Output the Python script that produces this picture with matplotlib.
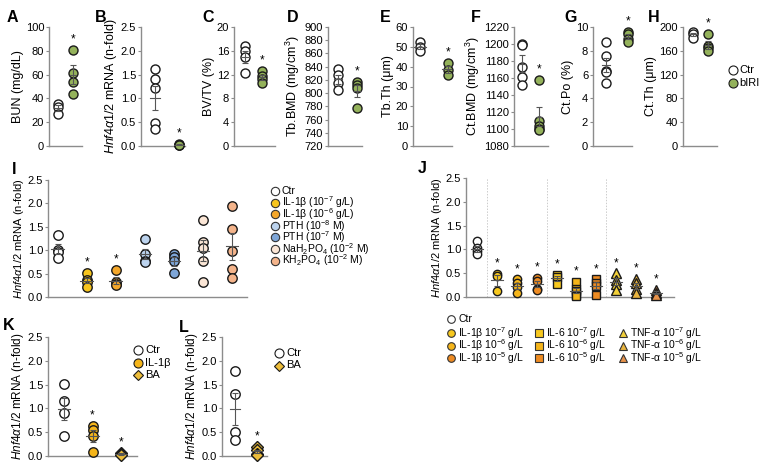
import numpy as np
import matplotlib
matplotlib.use('Agg')
import matplotlib.pyplot as plt
from matplotlib.lines import Line2D

plt.rcParams['font.family'] = ['Liberation Sans', 'DejaVu Sans']
plt.rcParams['mathtext.fontset'] = 'custom'
plt.rcParams['mathtext.rm'] = 'Liberation Sans'
plt.rcParams['mathtext.it'] = 'Liberation Sans:italic'
plt.rcParams['mathtext.bf'] = 'Liberation Sans:bold'

# ---- dados ----
# painéis A-H: Ctr vs bIRI
bun_ctr = [35, 33, 27]
bun_biri = [81, 61, 54, 44]
hnf_ctr = [1.62, 1.41, 1.21, 0.48, 0.36]
hnf_biri = [0.04, 0.03, 0.02, 0.02]
bvtv_ctr = [16.8, 16.0, 14.9, 12.3]
bvtv_biri = [12.6, 11.8, 11.2, 10.6]
tbbmd_ctr = [837, 827, 815, 805]
tbbmd_biri = [817, 812, 808, 777]
tbth_ctr = [52.4, 50.0, 48.0]
tbth_biri = [42.0, 38.5, 35.7]
ctbmd_ctr = [1200, 1199, 1173, 1161, 1152]
ctbmd_biri = [1158, 1110, 1104, 1100, 1099]
ctpo_ctr = [8.7, 7.6, 6.3, 6.2, 5.3]
ctpo_biri = [9.6, 9.4, 9.0, 8.75]
ctth_ctr = [192, 189, 182]
ctth_biri = [189, 168, 164, 159]

# painel I
i_labels = ['Ctr', 'IL-1β (10$^{-7}$ g/L)', 'IL-1β (10$^{-6}$ g/L)', 'PTH (10$^{-8}$ M)',
            'PTH (10$^{-7}$ M)', 'NaH$_2$PO$_4$ (10$^{-2}$ M)', 'KH$_2$PO$_4$ (10$^{-2}$ M)']
i_values = [[1.33, 1.01, 0.97, 0.83],
            [0.52, 0.36, 0.31, 0.22],
            [0.58, 0.31, 0.27, 0.25],
            [1.24, 0.92, 0.77, 0.75],
            [0.92, 0.85, 0.77, 0.51],
            [1.65, 1.17, 1.04, 0.77, 0.33],
            [1.95, 1.46, 0.99, 0.60, 0.40]]
i_star = [False, True, True, False, False, False, False]

# painel J
j_labels = ['Ctr',
            'IL-1β 10$^{-7}$ g/L', 'IL-1β 10$^{-6}$ g/L', 'IL-1β 10$^{-5}$ g/L',
            'IL-6 10$^{-7}$ g/L', 'IL-6 10$^{-6}$ g/L', 'IL-6 10$^{-5}$ g/L',
            'TNF-α 10$^{-7}$ g/L', 'TNF-α 10$^{-6}$ g/L', 'TNF-α 10$^{-5}$ g/L']
j_values = [[1.18, 1.02, 0.96, 0.90],
            [0.49, 0.44, 0.13],
            [0.37, 0.30, 0.20, 0.08],
            [0.40, 0.34, 0.17, 0.15],
            [0.47, 0.43, 0.27],
            [0.32, 0.17, 0.12, 0.05, 0.02],
            [0.37, 0.30, 0.24, 0.05],
            [0.50, 0.36, 0.28, 0.14],
            [0.38, 0.29, 0.17, 0.09],
            [0.15, 0.08, 0.04]]

# painel K
k_labels = ['Ctr', 'IL-1β', 'BA']
k_values = [[1.51, 1.16, 0.90, 0.41],
            [0.64, 0.55, 0.41, 0.08],
            [0.07, 0.04, 0.02]]

# painel L
l_labels = ['Ctr', 'BA']
l_values = [[1.79, 1.31, 0.50, 0.34],
            [0.19, 0.12, 0.05, 0.02]]

# ---- estilo ----
VERDE = '#94b25b'
i_cores = ['white', '#f7c51e', '#f4a72a', '#bcd3ee', '#7ea6d8', '#fbe6d6', '#f4b48b']
j_cores = ['white', '#f7c81e', '#f5b51a', '#ee8b22', '#f7c81e', '#f5b51a', '#ee8b22',
           '#f2d03a', '#e9b43e', '#e7924a']
j_markers = ['o', 'o', 'o', 'o', 's', 's', 's', '^', '^', '^']
k_cores = ['white', '#f5b51a', '#edbd3a']
k_markers = ['o', 'o', 'D']

W, H = 764, 470
fig = plt.figure(figsize=(W / 100, H / 100), dpi=100)
HNF = r'$\mathit{Hnf4\alpha1/2}$ mRNA (n-fold)'


def eixo(x0, x1, ytop, ybot):
    ax = fig.add_axes([x0 / W, 1 - ybot / H, (x1 - x0) / W, (ybot - ytop) / H])
    for s in ['top', 'right']:
        ax.spines[s].set_visible(False)
    for s in ['left', 'bottom']:
        ax.spines[s].set_color('#8c8c8c')
        ax.spines[s].set_linewidth(1.0)
    ax.set_xticks([])
    ax.tick_params(axis='y', length=2, width=0.8, color='#8c8c8c', labelsize=8, pad=1.5)
    ax.patch.set_alpha(0)
    return ax


def eixo_y(ax, lim, ticks, fmt, label, fs=8):
    ax.set_ylim(*lim)
    ax.set_yticks(ticks)
    ax.set_yticklabels([fmt.format(v) for v in ticks])
    ax.set_ylabel(label, fontsize=fs, labelpad=1.5)


def grupo(ax, x, vals, cor, marker='o', ms=6.5, star=False, hw=0.22):
    vals = np.asarray(vals, float)
    ax.plot(np.full(len(vals), x), vals, ls='none', marker=marker, ms=ms,
            mfc=cor, mec='#1a1a1a', mew=1.0, zorder=3, clip_on=False)
    m = vals.mean()
    s = vals.std(ddof=1) / np.sqrt(len(vals))
    ax.errorbar(x, m, yerr=s, fmt='none', ecolor='#555555', elinewidth=0.8,
                capsize=2.2, capthick=0.8, zorder=4)
    ax.plot([x - hw, x + hw], [m, m], color='#555555', lw=0.8, zorder=4)
    if star:
        lo, hi = ax.get_ylim()
        ax.text(x, vals.max() + 0.035 * (hi - lo), '*', ha='center', va='bottom',
                fontsize=8.5)


def letra(x, y, t):
    fig.text(x / W, 1 - y / H, t, fontsize=11.5, fontweight='bold', ha='center', va='center')


def leg_item(x, y, mk, cor, txt, ms=6, fs=7.5, gap=7, mec='#333333'):
    fig.lines.append(Line2D([x / W], [1 - y / H], transform=fig.transFigure, ls='none',
                            marker=mk, ms=ms, mfc=cor, mec=mec, mew=0.8))
    fig.text((x + gap) / W, 1 - y / H, txt, fontsize=fs, va='center', ha='left')


# ---- linha superior A-H ----
topo = [
    ('A', 12, 49, 82, (-0.6, 1.6), (0, 100), np.arange(0, 101, 20), 'BUN (mg/dL)', bun_ctr, bun_biri, '{:.0f}'),
    ('B', 101, 141, 185, (-0.58, 1.25), (0, 2.5), np.arange(0, 2.51, 0.5), HNF, hnf_ctr, hnf_biri, '{:.1f}'),
    ('C', 208, 234, 275, (-0.65, 1.76), (0, 20), np.arange(0, 21, 4), 'BV/TV (%)', bvtv_ctr, bvtv_biri, '{:.0f}'),
    ('D', 293, 328, 362, (-0.53, 1.25), (720, 900), np.arange(720, 901, 20), 'Tb.BMD (mg/cm$^3$)', tbbmd_ctr, tbbmd_biri, '{:.0f}'),
    ('E', 385, 413, 452, (-0.25, 1.14), (0, 60), np.arange(0, 61, 10), 'Tb.Th (μm)', tbth_ctr, tbth_biri, '{:.0f}'),
    ('F', 476, 514, 548, (-0.47, 1.53), (1080, 1220), np.arange(1080, 1221, 20), 'Ct.BMD (mg/cm$^3$)', ctbmd_ctr, ctbmd_biri, '{:.0f}'),
    ('G', 571, 593, 632, (-0.59, 1.18), (0, 10), np.arange(0, 11, 2), 'Ct.Po (%)', ctpo_ctr, ctpo_biri, '{:.0f}'),
    ('H', 654, 683, 717, (-0.67, 1.6), (0, 200), np.arange(0, 201, 40), 'Ct.Th (μm)', ctth_ctr, ctth_biri, '{:.0f}'),
]
for (lt, lx, x0, x1, xl, yl, yt, ylab, c, b, fmt) in topo:
    ax = eixo(x0, x1, 27, 146)
    ax.set_xlim(*xl)
    eixo_y(ax, yl, yt, fmt, ylab, fs=9)
    grupo(ax, 0, c, 'white', ms=6.5, hw=0.2)
    grupo(ax, 1, b, VERDE, ms=6.5, star=True, hw=0.2)
    letra(lx, 18, lt)

leg_item(733, 70, 'o', 'white', 'Ctr', ms=6.5, fs=8, gap=6, mec='#1a1a1a')
leg_item(733, 83, 'o', VERDE, 'bIRI', ms=6.5, fs=8, gap=6, mec='#1a1a1a')

# ---- painel I ----
ax = eixo(48, 247, 180, 297)
ax.set_xlim(-0.34, 6.52)
eixo_y(ax, (0, 2.5), np.arange(0, 2.51, 0.5), '{:.1f}', HNF)
for k, (vals, cor, st) in enumerate(zip(i_values, i_cores, i_star)):
    grupo(ax, k, vals, cor, ms=6.8, star=st)
for k, (cor, lab) in enumerate(zip(i_cores, i_labels)):
    leg_item(275, 191 + 11.6 * k, 'o', cor, lab, ms=6, fs=7.5, gap=7)
letra(14, 170, 'I')

# ---- painel J ----
ax = eixo(466, 674, 178, 297)
ax.set_xlim(-0.55, 9.9)
eixo_y(ax, (0, 2.5), np.arange(0, 2.51, 0.5), '{:.1f}', HNF)
for xs in [0.5, 3.5, 6.5]:
    ax.axvline(xs, color='#cccccc', lw=0.7, ls=(0, (1.5, 1.5)), zorder=1)
for k, (vals, cor, mk) in enumerate(zip(j_values, j_cores, j_markers)):
    grupo(ax, k, vals, cor, marker=mk, ms=6 if mk != '^' else 6.5, star=k > 0, hw=0.3)
letra(422, 168, 'J')

leg_item(451, 319, 'o', 'white', j_labels[0], ms=5.5, fs=7.5)
cols = [451, 539, 623]
rows = [333, 345.5, 358]
for k in range(1, 10):
    c = (k - 1) // 3
    r = (k - 1) % 3
    leg_item(cols[c], rows[r], j_markers[k], j_cores[k], j_labels[k], ms=5.5, fs=7.5)

# ---- painel K ----
ax = eixo(48, 137, 337, 456)
ax.set_xlim(-0.56, 2.56)
eixo_y(ax, (0, 2.5), np.arange(0, 2.51, 0.5), '{:.1f}', HNF, fs=8.5)
for k, (vals, cor, mk) in enumerate(zip(k_values, k_cores, k_markers)):
    grupo(ax, k, vals, cor, marker=mk, ms=6.8 if mk == 'o' else 6, star=k > 0)
for k, (cor, mk, lab) in enumerate(zip(k_cores, k_markers, k_labels)):
    leg_item(138, 350 + 12.5 * k, mk, cor, lab, ms=6.5 if mk == 'o' else 5.5, fs=8, gap=7, mec='#1a1a1a')
letra(9, 325, 'K')

# ---- painel L ----
ax = eixo(222, 267, 337, 456)
ax.set_xlim(-0.59, 1.45)
eixo_y(ax, (0, 2.5), np.arange(0, 2.51, 0.5), '{:.1f}', HNF, fs=8.5)
grupo(ax, 0, l_values[0], 'white', ms=6.8)
grupo(ax, 1, l_values[1], k_cores[2], marker='D', ms=6, star=True)
leg_item(279, 353, 'o', 'white', l_labels[0], ms=6.5, fs=8, gap=7, mec='#1a1a1a')
leg_item(279, 365.5, 'D', k_cores[2], l_labels[1], ms=5.5, fs=8, gap=7, mec='#1a1a1a')
letra(184, 327, 'L')

fig.savefig('out.png', dpi=100)
